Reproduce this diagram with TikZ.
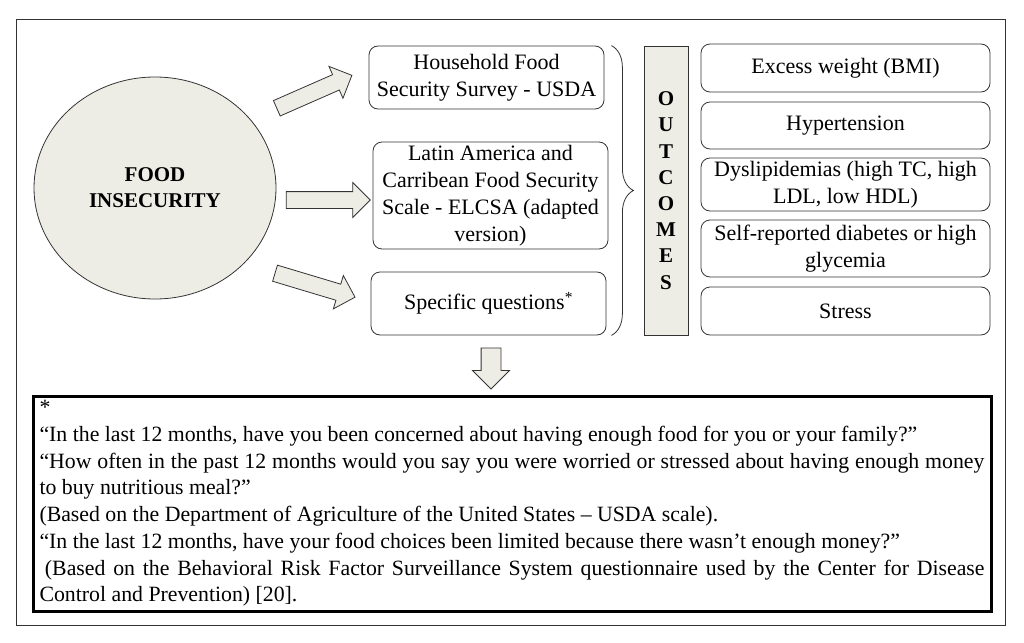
\documentclass[tikz,border=0pt]{standalone}
\usepackage{fontspec}
\setmainfont{Liberation Serif}
\usetikzlibrary{positioning,shapes.arrows,shapes.geometric,decorations.pathreplacing}
\definecolor{paper}{HTML}{EEEDE5}
\definecolor{edge}{HTML}{333333}

\begin{document}
\begin{tikzpicture}[x=1pt, y=-1pt,
   every node/.style={font=\fontsize{22}{27}\selectfont, inner sep=0pt},
   box/.style={draw=edge, thick, rounded corners=9pt, align=center},
   midbox/.style={box, minimum width=235pt},
   outbox/.style={box, minimum width=289pt},
   fatarrow/.style={single arrow, draw=edge, fill=paper, thick, inner sep=8pt, single arrow head extend=9pt}]
   % Page and frame
   \useasboundingbox (0,0) rectangle (1024,642);
   \draw[edge, semithick] (16,19) rectangle (1005,625);

   % Food insecurity
   \node[ellipse, draw=edge, thick, fill=paper, minimum width=242pt, minimum height=222pt, align=center, font=\fontsize{21}{26}\selectfont\bfseries] (fi) at (155,188) {\rule{0pt}{6pt}FOOD\\INSECURITY};

   % Measures
   \node[midbox, minimum height=63pt] (hfss) at (486.5,77.5) {Household Food\\Security Survey - USDA};
   \node[midbox, minimum height=107pt] (elcsa) at (490.5,195.5) {Latin America and\\Carribean Food Security\\Scale - ELCSA (adapted\\version)};
   \node[midbox, minimum height=63pt] (specq) at (488.5,303.5) {Specific questions\textsuperscript{*}};

   % Block arrows
   \node[fatarrow, minimum height=82pt, rotate=23.7] (a1) at (310.5,93.5) {};
   \node[fatarrow, minimum height=84pt] (a2) at (324,200) {};
   \node[fatarrow, minimum height=83.5pt, rotate=-16.7] (a3) at (311,284) {};
   \node[fatarrow, minimum height=41pt, inner sep=9.5pt, single arrow head extend=8.5pt, rotate=-90] (a4) at (491,363.5) {};

   % Brace and outcomes
   \draw[edge, thick, decorate, decoration={brace, amplitude=22pt}] ([xshift=3pt]elcsa.east |- hfss.north) -- ([xshift=3pt]elcsa.east |- specq.south);
   \node[draw=edge, thick, fill=paper, minimum width=44pt, minimum height=289pt, align=center, font=\fontsize{21}{26.2}\selectfont\bfseries] (outc) at (666,190.5) {O\\U\\T\\C\\O\\M\\E\\S};

   \node[outbox, minimum height=48pt] (bmi) at (845.5,68) {Excess weight (BMI)};
   \node[outbox, minimum height=47pt] (hyp) at (845.5,125.5) {Hypertension};
   \node[outbox, minimum height=53pt] (dys) at (845.5,184.5) {Dyslipidemias (high TC, high\\LDL, low HDL)};
   \node[outbox, minimum height=57pt] (diab) at (845.5,248.5) {Self-reported diabetes or high\\glycemia};
   \node[outbox, minimum height=48pt] (stress) at (845.5,311) {Stress};

   % Note on the specific questions
   \node[draw=black, line width=3pt, text width=945pt, inner xsep=6.5pt, minimum height=215pt, align=justify, font=\fontsize{21.8}{26.7}\selectfont] (note) at (512,503.5) {*\\
“In the last 12 months, have you been concerned about having enough food for you or your family?”\\
“How often in the past 12 months would you say you were worried or stressed about having enough money\linebreak
to buy nutritious meal?”\\
(Based on the Department of Agriculture of the United States – USDA scale).\\
“In the last 12 months, have your food choices been limited because there wasn’t enough money?”\\
\hspace*{0.25em}(Based on the Behavioral Risk Factor Surveillance System questionnaire used by the Center for Disease\linebreak
Control and Prevention) [20].};
\end{tikzpicture}
\end{document}
